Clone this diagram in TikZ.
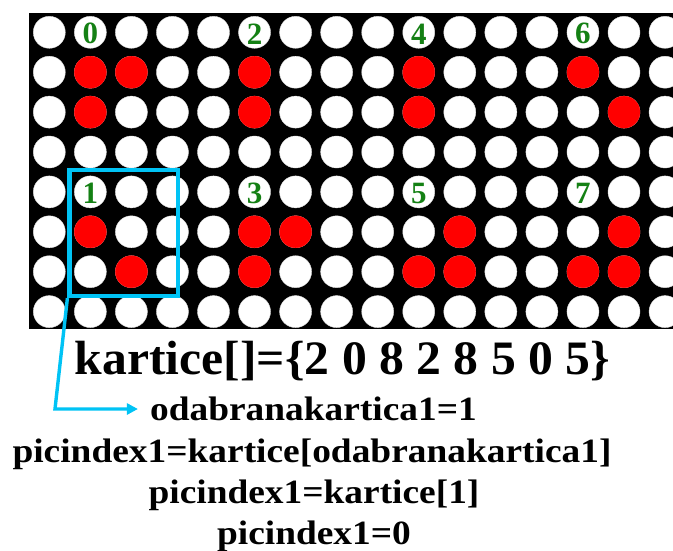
\documentclass[tikz,border=0pt]{standalone}
\usepackage{graphicx}
\usepackage{fontspec}
\setmainfont{Liberation Serif}
\usetikzlibrary{arrows.meta}
\definecolor{selcyan}{RGB}{0,195,245}
\definecolor{digitgreen}{RGB}{20,128,20}
\definecolor{ledred}{RGB}{255,0,0}
\begin{document}
\begin{tikzpicture}[x=1pt,y=-1pt,
  led/.style={circle,fill=white,draw=black!12,line width=0.4pt,minimum size=32pt,inner sep=0pt},
  redled/.style={led,fill=ledred,draw=ledred},
  digit/.style={text=digitgreen,font=\fontsize{31}{31}\selectfont\bfseries,inner sep=0pt},
  code/.style={anchor=base,inner sep=0pt,font=\fontsize{34}{34}\selectfont\bfseries},
  selbox/.style={draw=selcyan,line width=4.2pt,minimum width=108.5pt,minimum height=126pt,inner sep=0pt},
  link/.style={draw=selcyan,line width=3.4pt,-{Triangle[length=11pt,width=11pt]}}]
\useasboundingbox (0,0) rectangle (673,550);
\fill[black] (29.3,13.3) rectangle (673,328.5);
\foreach \i in {0,...,15}{
  \foreach \j in {0,...,7}{
    \node[led] (c-\i-\j) at ({49.3+41.05*\i},{32.3+39.9*\j}) {};
  }
}
\foreach \i/\j in {1/1,2/1,1/2,5/1,5/2,9/1,9/2,13/1,14/2,1/5,2/6,5/5,6/5,5/6,10/5,9/6,10/6,14/5,13/6,14/6}
  \node[redled] (r-\i-\j) at (c-\i-\j) {};
\foreach \d/\i/\j in {0/1/0,2/5/0,4/9/0,6/13/0,1/1/4,3/5/4,5/9/4,7/13/4}
  \node[digit] (d\d) at ([yshift=-1.5pt]c-\i-\j) {\d};
\node[selbox] (sel) at (123.75,233) {};
\node[code] (title) at (342.5,374.5) {\fontsize{48}{48}\selectfont\scalebox{1.035}[1]{kartice[]=\{2 0 8 2 8 5 0 5\}}};
\node[code] (l2) at (313.5,420) {\scalebox{1.1}[1]{odabranakartica1=1}};
\node[code] (l3) at (312,462) {\scalebox{1.1}[1]{picindex1=kartice[odabranakartica1]}};
\node[code] (l4) at (314,503) {\scalebox{1.1}[1]{picindex1=kartice[1]}};
\node[code] (l5) at (314,544) {\scalebox{1.1}[1]{picindex1=0}};
\coordinate (bend) at (55,409);
\draw[link,shorten >=12pt] (sel.south west) -- (bend) -- (bend -| l2.west);
\end{tikzpicture}
\end{document}
